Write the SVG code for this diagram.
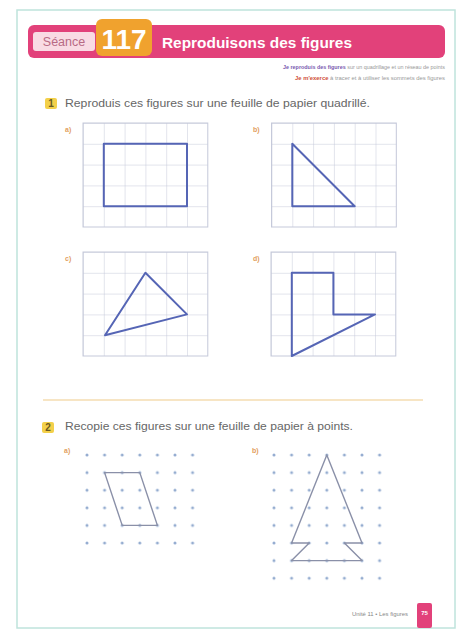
<svg xmlns="http://www.w3.org/2000/svg" width="460" height="630" viewBox="0 0 460 630">
<style>
.grid{stroke:#c5c9da;stroke-width:1;fill:none}
.fig{stroke:#5565b5;stroke-width:2;fill:none;stroke-linejoin:round}
.fig2{stroke:#8a90a8;stroke-width:1.4;fill:none;stroke-linejoin:round}
.lbl{font-family:"Liberation Sans",Arial,sans-serif;font-size:7px;font-weight:bold;fill:#e2a060}
.ins{font-family:"Liberation Sans",Arial,sans-serif;font-size:10.5px;fill:#666}
.badge{fill:#f3d04a}
.bnum{font-family:"Liberation Sans",Arial,sans-serif;font-size:10px;font-weight:bold;fill:#6a5a20}
.tiny{font-family:"Liberation Sans",Arial,sans-serif;font-size:4.5px;fill:#999}
</style>
<defs>
<pattern id="sq" x="0" y="0" width="20.8" height="20.8" patternUnits="userSpaceOnUse">
<path d="M0 0H20.8M0 0V20.8" stroke="#c5c9da" stroke-width="1" fill="none"/>
</pattern>
<pattern id="dots" x="-8.8" y="-8.8" width="17.6" height="17.6" patternUnits="userSpaceOnUse">
<circle cx="8.8" cy="8.8" r="1.5" fill="#94acd0"/>
</pattern>
</defs>
<rect width="460" height="630" fill="#fff"/>
<rect x="17" y="10" width="438" height="618" fill="#fff" stroke="#bfe3dc" stroke-width="1.5"/>

<g id="header">
<rect x="28" y="25" width="417" height="33" rx="6" fill="#e2417a"/>
<rect x="33" y="32" width="62" height="19" rx="3" fill="#f9dbe4"/>
<text x="64" y="46" text-anchor="middle" font-family="'Liberation Sans',Arial,sans-serif" font-size="12.5" fill="#b86a84">Séance</text>
<rect x="96" y="19" width="56" height="37" rx="6" fill="#f0a22e"/>
<text x="124" y="49" text-anchor="middle" font-family="'Liberation Sans',Arial,sans-serif" font-size="28" font-weight="bold" fill="#fff">117</text>
<text x="162" y="48" textLength="190" lengthAdjust="spacingAndGlyphs" font-family="'Liberation Sans',Arial,sans-serif" font-size="15" font-weight="bold" fill="#fff">Reproduisons des figures</text>
<text x="283" y="68.5" textLength="162" lengthAdjust="spacingAndGlyphs" class="tiny"><tspan fill="#7a5ab0" font-weight="bold">Je reproduis des figures</tspan> sur un quadrillage et un réseau de points</text>
<text x="295" y="79.5" textLength="150" lengthAdjust="spacingAndGlyphs" class="tiny"><tspan fill="#d0503a" font-weight="bold">Je m'exerce</tspan> à tracer et à utiliser les sommets des figures</text>
</g>

<g id="ex1-title">
<rect x="45" y="98" width="12" height="11" rx="2" class="badge"/>
<text x="51" y="107" text-anchor="middle" class="bnum">1</text>
<text x="65" y="107" textLength="305" lengthAdjust="spacingAndGlyphs" class="ins">Reproduis ces figures sur une feuille de papier quadrillé.</text>
</g>

<g id="grid-a">
<text x="65" y="132" class="lbl">a)</text>
<g transform="translate(83,123)">
<rect width="124.8" height="104" fill="url(#sq)"/>
<rect width="124.8" height="104" class="grid"/>
<rect x="20.8" y="20.8" width="83.2" height="62.4" class="fig"/>
</g>
</g>

<g id="grid-b">
<text x="253" y="132" class="lbl">b)</text>
<g transform="translate(271.5,123)">
<rect width="124.8" height="104" fill="url(#sq)"/>
<rect width="124.8" height="104" class="grid"/>
<path d="M20.8 20.8V83.2H83.2Z" class="fig"/>
</g>
</g>

<g id="grid-c">
<text x="65" y="261" class="lbl">c)</text>
<g transform="translate(83,252)">
<rect width="124.8" height="104" fill="url(#sq)"/>
<rect width="124.8" height="104" class="grid"/>
<path d="M62.4 20.8L104 62.4L22 83.2Z" class="fig"/>
</g>
</g>

<g id="grid-d">
<text x="253" y="261" class="lbl">d)</text>
<g transform="translate(271,252)">
<rect width="124.8" height="104" fill="url(#sq)"/>
<rect width="124.8" height="104" class="grid"/>
<path d="M20.8 20.8H62.4V62.4H104L20.8 104Z" class="fig"/>
</g>
</g>

<line x1="43" y1="400" x2="423" y2="400" stroke="#f5dcb0" stroke-width="1.5"/>

<g id="ex2-title">
<rect x="42" y="422" width="12" height="11" rx="2" class="badge"/>
<text x="48" y="431" text-anchor="middle" class="bnum">2</text>
<text x="65" y="430" textLength="288" lengthAdjust="spacingAndGlyphs" class="ins">Recopie ces figures sur une feuille de papier à points.</text>
</g>

<g id="dots-a">
<text x="64" y="453" class="lbl">a)</text>
<g transform="translate(87,455)">
<rect x="-4" y="-4" width="114" height="96" fill="url(#dots)"/>
<path d="M17.6 17.6H52.8L70.4 70.4H35.2Z" class="fig2"/>
</g>
</g>

<g id="dots-b">
<text x="252" y="453" class="lbl">b)</text>
<g transform="translate(274,455)">
<rect x="-4" y="-4" width="114" height="131" fill="url(#dots)"/>
<path d="M52.8 0L17.6 88H35.2L17.6 105.6H88L70.4 88H88Z" class="fig2"/>
</g>
</g>

<g id="footer">
<text x="352" y="616" textLength="56" lengthAdjust="spacingAndGlyphs" font-family="'Liberation Sans',Arial,sans-serif" font-size="5" fill="#888">Unité 11 • Les figures</text>
<rect x="417" y="603" width="15" height="25" rx="2" fill="#e2417a"/>
<text x="424.5" y="615" text-anchor="middle" font-family="'Liberation Sans',Arial,sans-serif" font-size="6" font-weight="bold" fill="#fff">75</text>
</g>
</svg>
